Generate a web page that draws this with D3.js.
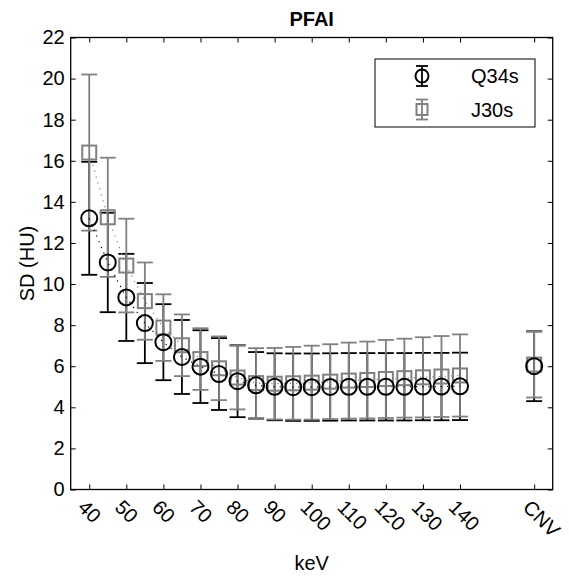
<!DOCTYPE html>
<html>
<head>
<meta charset="utf-8">
<script src="https://cdn.jsdelivr.net/npm/d3@7"></script>
<style>
  body { margin: 0; background: #fff; }
  svg { font-family: "Liberation Sans", Arial, sans-serif; }
</style>
</head>
<body>
<svg width="569" height="576"></svg>
<script>
// energies (keV), CNV drawn at the slot after 140
var keV = [40,45,50,55,60,65,70,75,80,85,90,95,100,105,110,115,120,125,130,135,140];
var q34sMean = [13.2,11.05,9.35,8.1,7.17,6.45,5.98,5.62,5.27,5.07,5.0,4.98,4.98,4.99,5.0,5.0,5.0,5.0,5.01,5.01,5.02];
var q34sSD   = [2.75,2.42,2.12,1.95,1.85,1.8,1.77,1.75,1.75,1.62,1.63,1.64,1.64,1.64,1.64,1.64,1.64,1.64,1.64,1.64,1.64];
var j30sMean = [16.4,13.25,10.9,9.17,7.88,7.02,6.35,5.9,5.45,5.18,5.15,5.17,5.2,5.25,5.3,5.33,5.38,5.42,5.46,5.5,5.55];
var j30sSD   = [3.8,2.9,2.28,1.88,1.62,1.5,1.5,1.55,1.55,1.7,1.74,1.77,1.8,1.82,1.85,1.87,1.9,1.92,1.95,1.97,2.0];
var cnvPos = 160;
var q34sCNV = {mean: 6.0, sd: 1.7};
var j30sCNV = {mean: 6.08, sd: 1.6};
var xTicks = [40,50,60,70,80,90,100,110,120,130,140,160];
var yTicks = [0,2,4,6,8,10,12,14,16,18,20,22];

var svg = d3.select("svg");
var plotL = 70.7, plotR = 552.7, plotT = 37.5, plotB = 489.5;

var x = d3.scaleLinear().domain([35, 165]).range([plotL, plotR]);
var y = d3.scaleLinear().domain([0, 22]).range([plotB, plotT]);

var black = "#000", gray = "#808080";

// axes (MATLAB style, ticks inward on all sides)
var xa = svg.append("g")
    .attr("transform", "translate(0," + plotB + ")")
    .call(d3.axisBottom(x).tickValues(xTicks)
      .tickFormat(function(d) { return d === cnvPos ? "CNV" : d; })
      .tickSizeInner(-5).tickSizeOuter(0));
xa.selectAll("text")
    .attr("x", 0).attr("y", 0).attr("dy", "0.35em")
    .attr("text-anchor", "start")
    .attr("transform", "translate(-8,14) rotate(45)");

svg.append("g")
    .attr("transform", "translate(0," + plotT + ")")
    .call(d3.axisTop(x).tickValues(xTicks).tickFormat("").tickSizeInner(-5).tickSizeOuter(0));

svg.append("g")
    .attr("transform", "translate(" + plotL + ",0)")
    .call(d3.axisLeft(y).tickValues(yTicks).tickSizeInner(-5).tickSizeOuter(0).tickPadding(6));

svg.append("g")
    .attr("transform", "translate(" + plotR + ",0)")
    .call(d3.axisRight(y).tickValues(yTicks).tickFormat("").tickSizeInner(-5).tickSizeOuter(0));

svg.selectAll(".tick text").attr("font-size", 20).attr("fill", "#000")
    .attr("font-family", "'Liberation Sans', Arial, sans-serif");
svg.selectAll(".tick line").attr("stroke", "#000").attr("stroke-width", 1);
svg.selectAll(".domain").remove();

svg.append("rect")
    .attr("x", plotL).attr("y", plotT)
    .attr("width", plotR - plotL).attr("height", plotB - plotT)
    .attr("fill", "none").attr("stroke", "#000").attr("stroke-width", 1.3);

// series data
function rows(means, sds, cnv) {
  var r = keV.map(function(k, i) { return {x: k, m: means[i], s: sds[i]}; });
  r.push({x: cnvPos, m: cnv.mean, s: cnv.sd, cnv: true});
  return r;
}
var q34s = rows(q34sMean, q34sSD, q34sCNV);
var j30s = rows(j30sMean, j30sSD, j30sCNV);

var line = d3.line().x(function(d) { return x(d.x); }).y(function(d) { return y(d.m); });

function errorbars(data, color) {
  var g = svg.append("g").attr("stroke", color).attr("stroke-width", 1.8).attr("fill", "none");
  var cw = 8;
  data.forEach(function(d) {
    var cx = x(d.x), y0 = y(d.m - d.s), y1 = y(d.m + d.s);
    g.append("line").attr("x1", cx).attr("x2", cx).attr("y1", y0).attr("y2", y1);
    g.append("line").attr("x1", cx - cw).attr("x2", cx + cw).attr("y1", y0).attr("y2", y0);
    g.append("line").attr("x1", cx - cw).attr("x2", cx + cw).attr("y1", y1).attr("y2", y1);
  });
}

function dotted(data, color) {
  svg.append("path")
      .datum(data.filter(function(d) { return !d.cnv; }))
      .attr("fill", "none").attr("stroke", color).attr("stroke-width", 1.2)
      .attr("stroke-dasharray", "1.2,5").attr("d", line);
}

errorbars(q34s, black);
errorbars(j30s, gray);
dotted(q34s, black);
dotted(j30s, gray);

svg.append("g").selectAll("rect").data(j30s).enter().append("rect")
    .attr("x", function(d) { return x(d.x) - 7; })
    .attr("y", function(d) { return y(d.m) - 7; })
    .attr("width", 14).attr("height", 14)
    .attr("fill", "none").attr("stroke", gray).attr("stroke-width", 2);

svg.append("g").selectAll("circle").data(q34s).enter().append("circle")
    .attr("cx", function(d) { return x(d.x); })
    .attr("cy", function(d) { return y(d.m); })
    .attr("r", 8)
    .attr("fill", "none").attr("stroke", black).attr("stroke-width", 2);

// legend
var lg = svg.append("g");
lg.append("rect").attr("x", 375).attr("y", 59).attr("width", 160).attr("height", 68)
    .attr("fill", "#fff").attr("stroke", "#000").attr("stroke-width", 1);
var legendItems = [{name: "Q34s", color: black, shape: "circle", cy: 76},
                   {name: "J30s", color: gray, shape: "square", cy: 109.5}];
legendItems.forEach(function(it) {
  var cx = 422;
  var g = lg.append("g").attr("stroke", it.color).attr("fill", "none");
  g.append("line").attr("x1", cx).attr("x2", cx).attr("y1", it.cy - 10).attr("y2", it.cy + 10).attr("stroke-width", 1.8);
  g.append("line").attr("x1", cx - 6).attr("x2", cx + 6).attr("y1", it.cy - 10).attr("y2", it.cy - 10).attr("stroke-width", 1.8);
  g.append("line").attr("x1", cx - 6).attr("x2", cx + 6).attr("y1", it.cy + 10).attr("y2", it.cy + 10).attr("stroke-width", 1.8);
  if (it.shape === "circle") {
    g.append("circle").attr("cx", cx).attr("cy", it.cy).attr("r", 6.5).attr("stroke-width", 2);
  } else {
    g.append("rect").attr("x", cx - 5.5).attr("y", it.cy - 5.5).attr("width", 11).attr("height", 11).attr("stroke-width", 2);
  }
  lg.append("text").attr("x", 471).attr("y", it.cy).attr("dy", "0.35em")
      .attr("font-size", 20).text(it.name);
});

// titles
svg.append("text").attr("x", (plotL + plotR) / 2).attr("y", 26)
    .attr("text-anchor", "middle").attr("font-size", 20).attr("font-weight", "bold").text("PFAI");
svg.append("text").attr("x", (plotL + plotR) / 2).attr("y", 570)
    .attr("text-anchor", "middle").attr("font-size", 20).text("keV");
svg.append("text").attr("transform", "translate(33.5," + ((plotT + plotB) / 2) + ") rotate(-90)")
    .attr("text-anchor", "middle").attr("font-size", 20).text("SD (HU)");
</script>
</body>
</html>
